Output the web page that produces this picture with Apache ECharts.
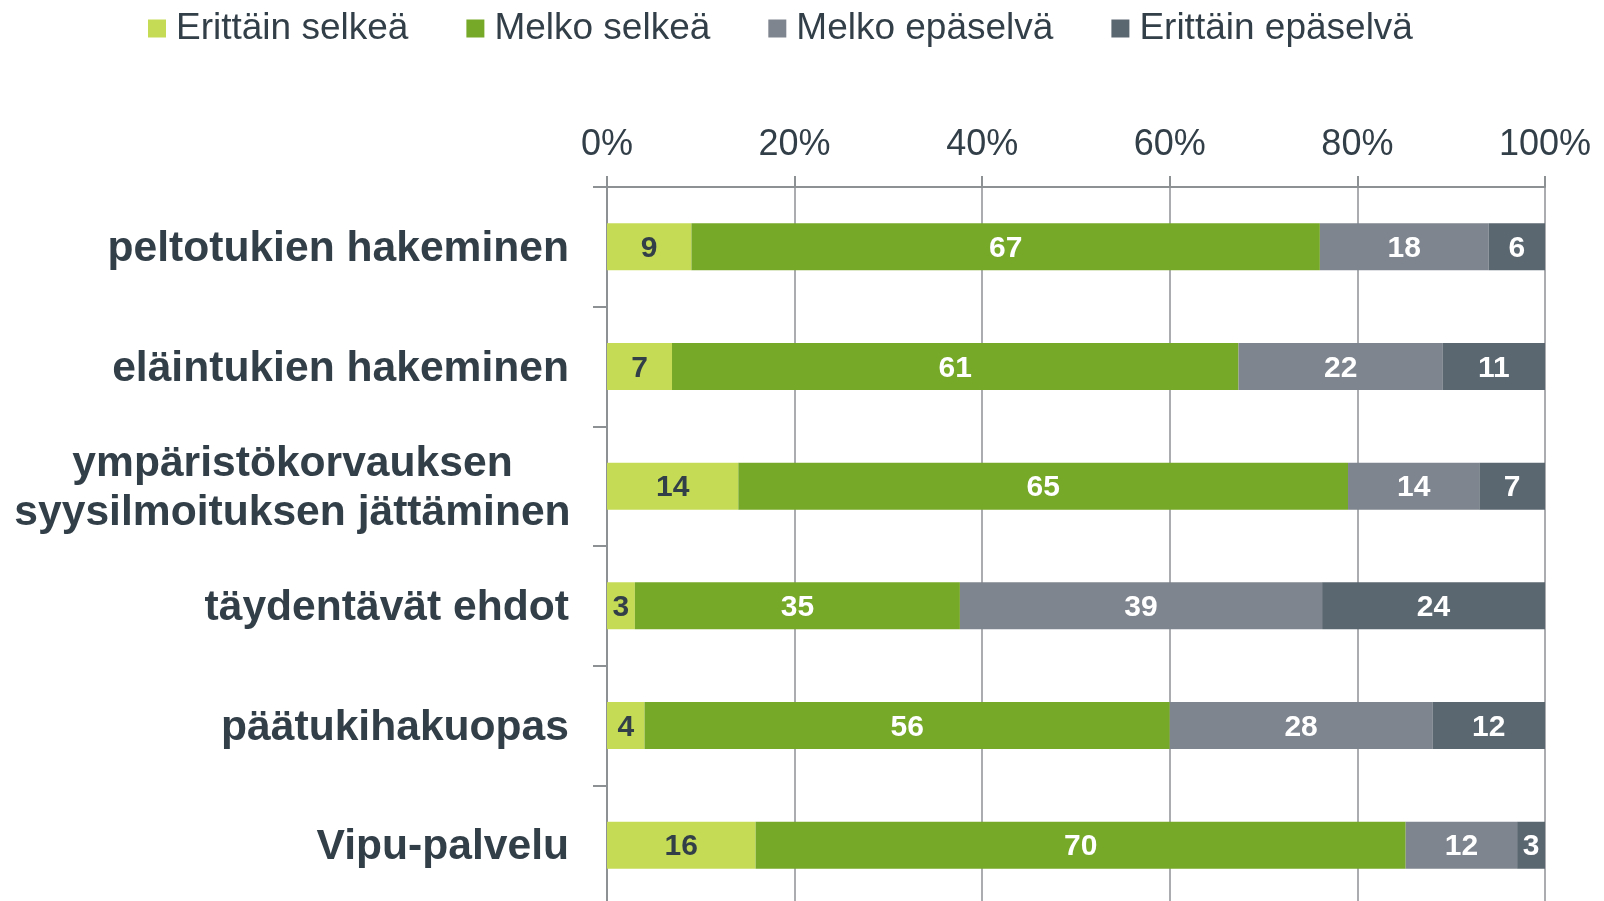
<!DOCTYPE html>
<html>
<head>
<meta charset="utf-8">
<script src="https://cdn.jsdelivr.net/npm/echarts@6/dist/echarts.min.js"></script>
<style>
  html, body { margin: 0; padding: 0; background: #fff; }
  #chart { width: 1604px; height: 901px; }
</style>
</head>
<body>
<div id="chart"></div>
<script>
var categories = [
    'peltotukien hakeminen',
    'eläintukien hakeminen',
    'ympäristökorvauksen\nsyysilmoituksen jättäminen',
    'täydentävät ehdot',
    'päätukihakuopas',
    'Vipu-palvelu'
];
var seriesNames = ['Erittäin selkeä', 'Melko selkeä', 'Melko epäselvä', 'Erittäin epäselvä'];
var erittainSelkea = [9, 7, 14, 3, 4, 16];
var melkoSelkea = [67, 61, 65, 35, 56, 70];
var melkoEpaselva = [18, 22, 14, 39, 28, 12];
var erittainEpaselva = [6, 11, 7, 24, 12, 3];
var xTicks = [0, 20, 40, 60, 80, 100];

var colors = ['#c5db56', '#77a928', '#7f858e', '#5b6770'];
var labelColors = ['#333f48', '#fff', '#fff', '#fff'];
var textColor = '#333f48';
var lineColor = '#8e9194';
var font = 'Liberation Sans, Arial, sans-serif';

var rows = [erittainSelkea, melkoSelkea, melkoEpaselva, erittainEpaselva];

// each bar is scaled to 100 % (rounded answers can add up to 101)
var totals = categories.map(function (c, i) {
    return rows.reduce(function (s, r) { return s + r[i]; }, 0);
});

var series = rows.map(function (vals, k) {
    return {
        name: seriesNames[k],
        type: 'bar',
        stack: 'total',
        barWidth: 47,
        itemStyle: { color: colors[k] },
        label: {
            show: true,
            position: 'inside',
            offset: [0, 2],
            color: labelColors[k],
            fontFamily: font,
            fontWeight: 'bold',
            fontSize: 30,
            formatter: function (p) { return vals[p.dataIndex]; }
        },
        data: vals.map(function (v, i) { return v / totals[i] * 100; })
    };
});

var myChart = echarts.init(document.getElementById('chart'));
var option = {
    animation: false,
    color: colors,
    legend: {
        left: 143,
        top: 5,
        itemWidth: 18,
        itemHeight: 18,
        itemGap: 58,
        icon: 'rect',
        textStyle: {
            color: textColor,
            fontFamily: font,
            fontSize: 37,
            padding: [0, 0, 0, 5]
        },
        data: seriesNames
    },
    grid: {
        left: 607,
        right: 59,
        top: 187,
        height: 718,
        containLabel: false,
        outerBoundsMode: 'none'
    },
    xAxis: {
        type: 'value',
        position: 'top',
        min: xTicks[0],
        max: xTicks[xTicks.length - 1],
        interval: xTicks[1] - xTicks[0],
        axisLine: { show: true, lineStyle: { color: lineColor, width: 2 } },
        axisTick: { show: true, length: 11, lineStyle: { color: lineColor, width: 2 } },
        splitLine: { show: true, lineStyle: { color: lineColor, width: 1.5 } },
        axisLabel: {
            margin: 24,
            color: textColor,
            fontFamily: font,
            fontSize: 36,
            formatter: '{value}%'
        }
    },
    yAxis: {
        type: 'category',
        inverse: true,
        data: categories,
        axisLine: { show: true, lineStyle: { color: lineColor, width: 2 } },
        axisTick: { show: true, length: 14, lineStyle: { color: lineColor, width: 2 } },
        axisLabel: {
            margin: 38,
            padding: [5, 0, 0, 0],
            color: textColor,
            fontFamily: font,
            fontWeight: 'bold',
            fontSize: 42.6,
            lineHeight: 49,
            formatter: function (v) {
                if (v.indexOf('\n') < 0) return v;
                return v.split('\n').map(function (s) { return '{c|' + s + '}'; }).join('\n');
            },
            rich: {
                c: {
                    width: 553,
                    align: 'center',
                    color: textColor,
                    fontFamily: font,
                    fontWeight: 'bold',
                    fontSize: 42.6,
                    lineHeight: 49
                }
            }
        }
    },
    series: series
};
myChart.setOption(option);
</script>
</body>
</html>
